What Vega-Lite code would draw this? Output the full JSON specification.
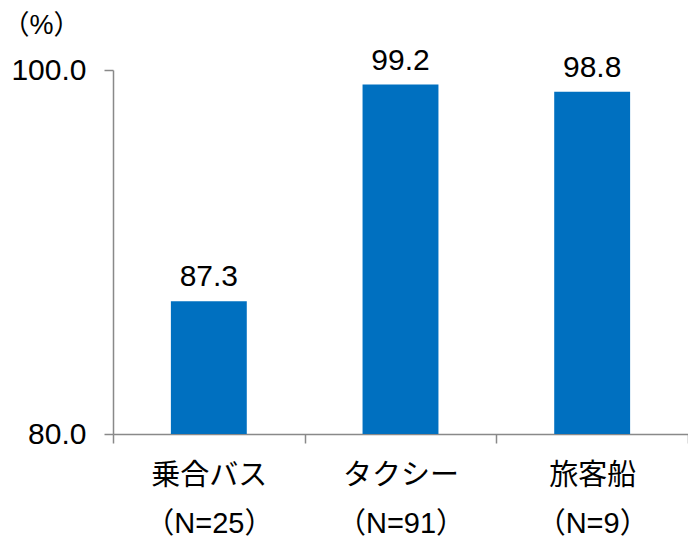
{
  "$schema": "https://vega.github.io/schema/vega-lite/v6.json",
  "width": 575,
  "height": 364,
  "autosize": "none",
  "padding": {"left": 113, "top": 70, "right": 0, "bottom": 103},
  "background": "white",
  "config": {
    "view": {"stroke": null},
    "font": "Liberation Sans, Noto Sans CJK JP, sans-serif"
  },
  "data": {
    "values": [
      {"mode": "乗合バス", "n": "（N=25）", "rate": 87.3},
      {"mode": "タクシー", "n": "（N=91）", "rate": 99.2},
      {"mode": "旅客船", "n": "（N=9）", "rate": 98.8}
    ]
  },
  "transform": [
    {"calculate": "datum.mode + '|' + datum.n", "as": "label"}
  ],
  "encoding": {
    "x": {
      "field": "label",
      "type": "nominal",
      "sort": null,
      "scale": {"paddingInner": 0, "paddingOuter": 0},
      "axis": {
        "title": null,
        "labelAngle": 0,
        "labelExpr": "split(datum.label, '|')",
        "labelFont": "Liberation Sans, Noto Sans CJK JP, sans-serif",
        "labelFontSize": 29,
        "labelColor": "#000000",
        "labelLineHeight": 48,
        "labelPadding": 18,
        "domainColor": "#898989",
        "domainWidth": 1.5,
        "tickColor": "#898989",
        "tickWidth": 1.5,
        "tickSize": 9,
        "tickBand": "extent"
      }
    },
    "y": {
      "field": "rate",
      "type": "quantitative",
      "scale": {"domain": [80, 100], "zero": false, "nice": false},
      "axis": {
        "title": "（%）",
        "titleAngle": 0,
        "titleAlign": "left",
        "titleBaseline": "middle",
        "titleX": -111,
        "titleY": -45,
        "titleFontSize": 27,
        "titleFontWeight": "normal",
        "titleColor": "#000000",
        "values": [80, 100],
        "format": ".1f",
        "grid": false,
        "labelFontSize": 30,
        "labelColor": "#000000",
        "labelPadding": 18,
        "domainColor": "#898989",
        "domainWidth": 1.5,
        "tickColor": "#898989",
        "tickWidth": 1.5,
        "tickSize": 9
      }
    }
  },
  "layer": [
    {
      "mark": {"type": "bar", "color": "#0070C0", "clip": true, "width": {"band": 0.396}},
      "encoding": {"y2": {"datum": 80}}
    },
    {
      "mark": {"type": "text", "baseline": "alphabetic", "dy": -15, "fontSize": 30, "color": "#000000"},
      "encoding": {"text": {"field": "rate", "type": "quantitative", "format": ".1f"}}
    }
  ]
}
